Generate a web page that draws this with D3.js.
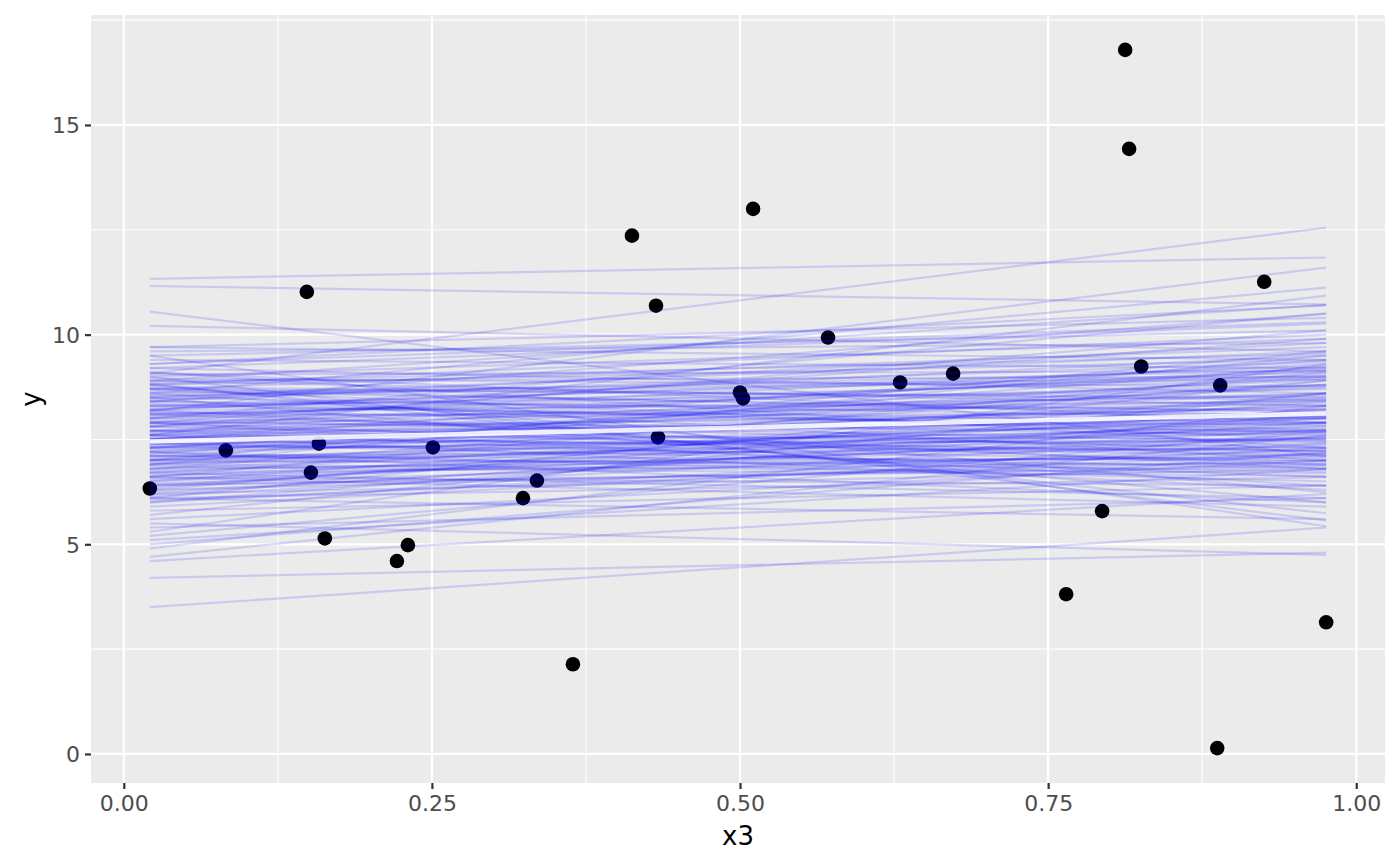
<!DOCTYPE html>
<html>
<head>
<meta charset="utf-8">
<script src="https://cdn.jsdelivr.net/npm/d3@7"></script>
<style>
  body { margin: 0; background: #fff; }
  text { font-family: "DejaVu Sans", sans-serif; }
</style>
</head>
<body>
<svg id="chart" width="1400" height="866"></svg>
<script>
// observed points
const x3 = [0.0211, 0.0828, 0.1485, 0.1518, 0.1583, 0.1631, 0.2216, 0.2305, 0.2508, 0.3239,
    0.3352, 0.3644, 0.4123, 0.4318, 0.4334, 0.5000, 0.5024, 0.5106, 0.5714, 0.6299,
    0.6729, 0.7646, 0.7938, 0.8125, 0.8157, 0.8255, 0.8872, 0.8896, 0.9253, 0.9756];
const y = [6.33, 7.24, 11.02, 6.71, 7.40, 5.14, 4.60, 4.98, 7.31, 6.10,
    6.52, 2.14, 12.36, 10.69, 7.55, 8.62, 8.48, 13.00, 9.93, 8.86,
    9.07, 3.81, 5.79, 16.79, 14.43, 9.24, 0.14, 8.79, 11.26, 3.14];

// posterior draws: fitted y at min(x3) and at max(x3)
const drawStart = [7.9, 7.2, 8.3, 6.8, 7.6, 8.8, 6.5, 7.4, 8.1, 6.9,
    7.7, 8.5, 6.2, 7.3, 8.9, 7.0, 6.6, 7.8, 8.4, 6.0,
    7.5, 9.2, 6.3, 8.0, 7.1, 8.6, 5.9, 7.9, 9.0, 6.7,
    7.4, 8.2, 5.7, 8.7, 7.6, 6.4, 9.4, 7.2, 8.0, 6.1,
    7.7, 8.5, 5.6, 9.1, 7.0, 8.3, 6.8, 7.3, 9.6, 6.5,
    8.1, 7.5, 5.8, 8.8, 6.9, 7.8, 9.3, 6.2, 7.1, 8.4,
    6.6, 7.9, 5.4, 8.6, 7.4, 6.0, 9.5, 7.7, 8.2, 6.4,
    7.0, 8.9, 5.2, 9.7, 7.6, 6.7, 8.0, 7.3, 6.3, 8.7,
    5.0, 4.9, 5.1, 4.7, 4.6, 5.3, 8.83, 9.0, 8.5, 9.5,
    8.8, 9.7, 9.3, 8.17, 8.6, 7.6, 8.9, 9.2, 8.4, 11.33,
    11.16, 10.55, 10.21, 9.07, 4.2, 3.5, 5.5, 6.1, 6.6, 7.2,
    7.9, 8.2, 9.1, 6.9, 7.5, 6.1, 7.8, 8.3, 7.1, 7.6,
    7.9, 7.3, 7.5, 6.8, 8.1, 7.0, 7.4, 8.7,
    7.85, 7.05, 8.25, 6.75, 7.55, 8.65, 6.45, 7.35, 8.05, 6.95,
    7.65, 8.35, 6.55, 7.25, 8.75, 7.15, 6.85, 7.95, 8.45, 6.25,
    7.45, 8.95, 6.65, 8.15, 7.22, 8.55, 6.15, 7.72, 8.85, 6.92,
    7.33, 8.02, 6.35, 8.42, 7.52, 6.72, 9.05, 7.12, 7.82, 6.42,
    7.62, 8.22, 6.05, 8.72, 7.02, 8.12, 7.42, 7.72, 8.52, 6.62];
const drawEnd = [8.6, 7.8, 7.9, 8.9, 7.1, 9.4, 7.6, 8.3, 8.8, 6.7,
    9.2, 8.0, 7.9, 7.5, 8.3, 9.6, 6.4, 7.3, 9.8, 8.1,
    8.0, 8.6, 7.0, 7.6, 8.5, 9.0, 7.3, 6.9, 9.9, 8.2,
    7.0, 8.4, 8.6, 7.5, 8.8, 6.9, 9.2, 6.5, 9.3, 6.6,
    7.9, 9.6, 7.0, 7.9, 7.4, 8.7, 7.1, 9.0, 9.8, 8.4,
    7.2, 8.6, 6.4, 10.0, 7.7, 8.1, 10.3, 6.8, 7.0, 8.2,
    9.1, 9.9, 6.1, 7.0, 7.7, 7.4, 10.1, 6.6, 9.5, 8.0,
    8.0, 9.0, 7.7, 9.4, 6.3, 6.1, 10.5, 8.8, 8.6, 8.5,
    7.2, 8.3, 6.8, 7.6, 6.2, 9.3, 5.74, 5.57, 6.0, 5.43,
    6.24, 10.4, 10.7, 11.6, 11.12, 10.93, 10.71, 10.26, 10.5, 11.84,
    10.72, 7.1, 9.6, 12.55, 4.8, 5.4, 4.75, 5.6, 5.9, 6.0,
    6.4, 6.8, 7.3, 9.5, 9.4, 8.9, 10.1, 9.1, 7.3, 7.5,
    7.7, 7.9, 8.3, 7.9, 8.1, 6.9, 6.8, 9.7,
    8.45, 7.75, 8.93, 7.35, 7.22, 8.15, 7.24, 8.05, 9.04, 7.06,
    8.93, 7.73, 7.55, 7.65, 8.44, 9.24, 6.63, 7.45, 9.35, 7.74,
    8.14, 8.76, 7.15, 7.84, 8.43, 8.95, 7.56, 7.14, 9.54, 8.04,
    7.25, 8.34, 8.23, 7.65, 8.74, 6.95, 9.13, 6.74, 9.14, 6.85,
    8.03, 9.25, 7.16, 8.05, 7.53, 8.54, 7.45, 8.24, 9.16, 7.83];

// mean fit at min(x3) and max(x3)
const meanFit = [7.45, 8.12];

const xTicks = [0, 0.25, 0.5, 0.75, 1];
const yTicks = [0, 5, 10, 15];

const svg = d3.select('#chart');
const panel = { left: 91, right: 1385, top: 15, bottom: 783 };

const xExt = d3.extent(x3);
const xPad = (xExt[1] - xExt[0]) * 0.05;
const allY = y.concat(drawStart, drawEnd);
const yExt = d3.extent(allY);
const yPad = (yExt[1] - yExt[0]) * 0.05;

const xScale = d3.scaleLinear()
    .domain([xExt[0] - xPad, xExt[1] + xPad])
    .range([panel.left, panel.right]);
const yScale = d3.scaleLinear()
    .domain([yExt[0] - yPad, yExt[1] + yPad])
    .range([panel.bottom, panel.top]);

// panel background
svg.append('rect')
    .attr('x', panel.left)
    .attr('y', panel.top)
    .attr('width', panel.right - panel.left)
    .attr('height', panel.bottom - panel.top)
    .attr('fill', '#ebebeb');

// grid
const xMinor = [0.125, 0.375, 0.625, 0.875];
const yMinor = [2.5, 7.5, 12.5, 17.5];
const grid = svg.append('g');

grid.selectAll('.xminor').data(xMinor).enter().append('line')
    .attr('x1', xScale).attr('x2', xScale)
    .attr('y1', panel.top).attr('y2', panel.bottom)
    .attr('stroke', '#fff').attr('stroke-width', 1.1);
grid.selectAll('.yminor').data(yMinor).enter().append('line')
    .attr('y1', yScale).attr('y2', yScale)
    .attr('x1', panel.left).attr('x2', panel.right)
    .attr('stroke', '#fff').attr('stroke-width', 1.1);
grid.selectAll('.xmajor').data(xTicks).enter().append('line')
    .attr('x1', xScale).attr('x2', xScale)
    .attr('y1', panel.top).attr('y2', panel.bottom)
    .attr('stroke', '#fff').attr('stroke-width', 2.2);
grid.selectAll('.ymajor').data(yTicks).enter().append('line')
    .attr('y1', yScale).attr('y2', yScale)
    .attr('x1', panel.left).attr('x2', panel.right)
    .attr('stroke', '#fff').attr('stroke-width', 2.2);

// points
svg.append('g').selectAll('circle')
    .data(x3.map((d, i) => [d, y[i]]))
    .enter().append('circle')
    .attr('cx', d => xScale(d[0]))
    .attr('cy', d => yScale(d[1]))
    .attr('r', 7.3)
    .attr('fill', '#000');

// posterior draws
svg.append('g').selectAll('line')
    .data(drawStart.map((d, i) => [d, drawEnd[i]]))
    .enter().append('line')
    .attr('x1', xScale(xExt[0]))
    .attr('x2', xScale(xExt[1]))
    .attr('y1', d => yScale(d[0]))
    .attr('y2', d => yScale(d[1]))
    .attr('stroke', 'blue')
    .attr('stroke-opacity', 0.14)
    .attr('stroke-width', 2.2);

// mean fit
svg.append('line')
    .attr('x1', xScale(xExt[0]))
    .attr('x2', xScale(xExt[1]))
    .attr('y1', yScale(meanFit[0]))
    .attr('y2', yScale(meanFit[1]))
    .attr('stroke', '#fff')
    .attr('stroke-opacity', 0.85)
    .attr('stroke-width', 4.4);

// axes
const xAxis = svg.append('g')
    .attr('transform', `translate(0,${panel.bottom})`)
    .call(d3.axisBottom(xScale).tickValues(xTicks).tickFormat(d3.format('.2f'))
        .tickSize(6).tickPadding(4));
const yAxis = svg.append('g')
    .attr('transform', `translate(${panel.left},0)`)
    .call(d3.axisLeft(yScale).tickValues(yTicks).tickFormat(d3.format('d'))
        .tickSize(6).tickPadding(5));

[xAxis, yAxis].forEach(a => {
    a.select('.domain').remove();
    a.selectAll('.tick line').attr('stroke', '#333').attr('stroke-width', 2.2);
    a.selectAll('.tick text')
        .attr('fill', '#4d4d4d')
        .style('font-size', '22px')
        .style('font-family', '"DejaVu Sans", sans-serif');
});
xAxis.selectAll('.tick text').attr('dy', '0.8em');
yAxis.selectAll('.tick text').attr('dy', '0.36em');

// axis titles
svg.append('text')
    .attr('x', (panel.left + panel.right) / 2)
    .attr('y', 845)
    .attr('text-anchor', 'middle')
    .style('font-size', '26px')
    .attr('fill', '#000')
    .text('x3');
svg.append('text')
    .attr('transform', `translate(40,${(panel.top + panel.bottom) / 2}) rotate(-90)`)
    .attr('text-anchor', 'middle')
    .style('font-size', '26px')
    .attr('fill', '#000')
    .text('y');
</script>
</body>
</html>
